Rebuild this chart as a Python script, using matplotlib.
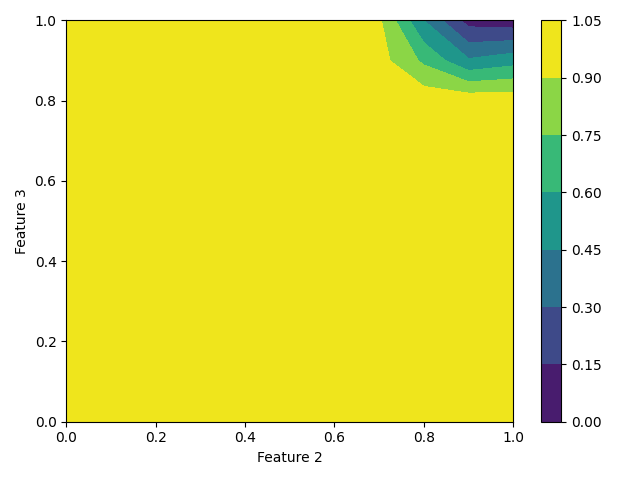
import numpy as np
import matplotlib
matplotlib.use("Agg")
from matplotlib import pyplot as plt

# grid of feature values (0..1 step 0.1)
feature2 = np.linspace(0, 1, 11)
feature3 = np.linspace(0, 1, 11)

# values; everything not listed is 1.0
# rows: feature3 = 0.8, 0.9, 1.0 ; cols: feature2 = 0.7, 0.8, 0.9, 1.0
corner_rows = [0.8, 0.9, 1.0]
corner_cols = [0.7, 0.8, 0.9, 1.0]
corner_vals = [
    [1.00, 1.00, 1.00, 1.00],
    [0.957, 0.72, 0.47, 0.54],
    [0.924, 0.45, 0.09, 0.06],
]

levels = np.arange(0, 1.06, 0.15)

Z = np.ones((len(feature3), len(feature2)))
for i, r in enumerate(corner_rows):
    for j, c in enumerate(corner_cols):
        Z[int(round(r * 10)), int(round(c * 10))] = corner_vals[i][j]

X, Y = np.meshgrid(feature2, feature3)

fig = plt.figure(figsize=(6.4, 4.8), dpi=100)
cs = plt.contourf(X, Y, Z, levels=levels, vmin=0.0, vmax=1.0)
plt.colorbar(cs)
plt.xlabel('Feature 2')
plt.ylabel('Feature 3')
plt.tight_layout()
plt.savefig('out.png')
